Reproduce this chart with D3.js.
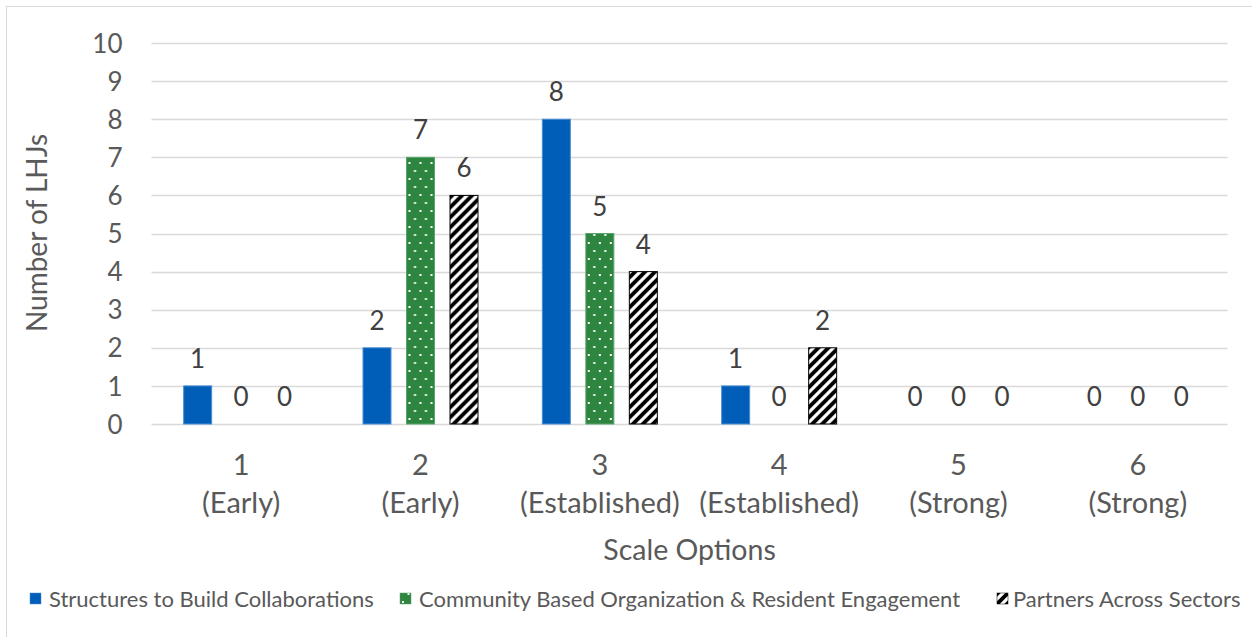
<!DOCTYPE html>
<html><head><meta charset="utf-8">
<script src="https://cdn.jsdelivr.net/npm/d3@7/dist/d3.min.js"></script>
<style>html,body{margin:0;padding:0;background:#fff;} svg{display:block;}</style>
</head><body>
<svg id="chart" width="1252" height="637"></svg>
<script>
const categories = ["1|(Early)", "2|(Early)", "3|(Established)", "4|(Established)", "5|(Strong)", "6|(Strong)"];
const seriesNames = ["Structures to Build Collaborations", "Community Based Organization & Resident Engagement", "Partners Across Sectors"];
const structures = [1, 2, 8, 1, 0, 0];
const community = [0, 7, 5, 0, 0, 0];
const partners = [0, 6, 4, 2, 0, 0];
const yTicks = [0,1,2,3,4,5,6,7,8,9,10];
const xTitle = "Scale Options";
const yTitle = "Number of LHJs";

const seriesValues = [structures, community, partners];
const fills = ["#005EB8", "url(#dots)", "url(#hatch)"];
const strokes = ["#4a8fd4", "#5aa56a", "#000"];

const svg = d3.select("#chart");
const font = "Lato, 'Open Sans', sans-serif";

// patterns
const defs = svg.append("defs");
const pd = defs.append("pattern").attr("id","dots").attr("patternUnits","userSpaceOnUse")
  .attr("width",11).attr("height",16);
pd.append("rect").attr("width",11).attr("height",16).attr("fill","#2E8540");
pd.append("rect").attr("x",2).attr("y",2).attr("width",2).attr("height",2).attr("fill","#fff");
pd.append("rect").attr("x",7.5).attr("y",10).attr("width",2).attr("height",2).attr("fill","#fff");
const ph = defs.append("pattern").attr("id","hatch").attr("patternUnits","userSpaceOnUse")
  .attr("width",10).attr("height",10);
ph.append("rect").attr("width",10).attr("height",10).attr("fill","#000");
ph.append("path").attr("d","M0,10 L10,0 M-3,3 L3,-3 M7,13 L13,7").attr("stroke","#fff").attr("stroke-width",3.2);

// outer border
svg.append("rect").attr("x",6.5).attr("y",6.5).attr("width",1260).attr("height",640)
  .attr("fill","none").attr("stroke","#d9d9d9").attr("stroke-width",1);

const pLeft = 151.5, pRight = 1227.5, pTop = 43, pBottom = 424;
const x0 = d3.scaleBand().domain(categories).range([pLeft, pRight]).paddingInner(0).paddingOuter(0);
const groupW = 116;
const x1 = d3.scaleBand().domain(d3.range(seriesNames.length)).range([0, groupW]).paddingInner(1/3).paddingOuter(0);
const y = d3.scaleLinear().domain([0, 10]).range([pBottom, pTop]);

// gridlines
svg.append("g").selectAll("line").data(yTicks).join("line")
  .attr("x1", pLeft).attr("x2", pRight)
  .attr("y1", d => Math.round(y(d)) + 0.5).attr("y2", d => Math.round(y(d)) + 0.5)
  .attr("stroke", "#d9d9d9").attr("stroke-width", 1.3);

// y axis labels
const yAxis = d3.axisLeft(y).tickValues(yTicks).tickSize(0).tickPadding(0);
const gy = svg.append("g").attr("transform", `translate(${pLeft - 29},0)`).call(yAxis);
gy.select(".domain").remove();
gy.selectAll("text").attr("font-family", font).attr("font-size", 26).attr("fill", "#595959").attr("dy","0.35em");

// bars
const groups = svg.append("g").selectAll("g").data(categories).join("g")
  .attr("transform", d => `translate(${x0(d) + (x0.bandwidth() - groupW)/2},0)`);
groups.each(function(cat, ci) {
  const g = d3.select(this);
  seriesValues.forEach((vals, si) => {
    const v = vals[ci];
    if (v > 0) {
      g.append("rect").attr("x", x1(si) + 0.5).attr("width", x1.bandwidth() - 1)
        .attr("y", y(v)).attr("height", y(0) - y(v))
        .attr("fill", fills[si]).attr("stroke", strokes[si]).attr("stroke-width", 1);
    }
    g.append("text").attr("x", x1(si) + x1.bandwidth()/2).attr("y", y(v) - 18)
      .attr("text-anchor","middle").attr("font-family", font).attr("font-size", 26)
      .attr("fill","#404040").text(v);
  });
});

// x axis labels
const xAxis = d3.axisBottom(x0).tickSize(0).tickFormat("");
const gx = svg.append("g").attr("transform", `translate(0,${pBottom})`).call(xAxis);
gx.select(".domain").remove();
gx.selectAll(".tick").each(function(d) {
  const parts = d.split("|");
  const t = d3.select(this).append("text").attr("text-anchor","middle")
    .attr("font-family", font).attr("font-size", 29).attr("fill","#595959");
  t.append("tspan").attr("x",0).attr("y",51).text(parts[0]);
  t.append("tspan").attr("x",0).attr("y",89).text(parts[1]);
});

// axis titles
svg.append("text").attr("x", (pLeft+pRight)/2).attr("y", 560).attr("text-anchor","middle")
  .attr("font-family", font).attr("font-size", 28.5).attr("fill","#595959").text(xTitle);
svg.append("text").attr("transform","translate(47,233) rotate(-90)").attr("text-anchor","middle")
  .attr("font-family", font).attr("font-size", 28).attr("fill","#595959").text(yTitle);

// legend
const legendX = [30, 400, 997];
const lg = svg.append("g").selectAll("g").data(seriesNames).join("g")
  .attr("transform", (d,i) => `translate(${legendX[i]},599)`);
lg.append("rect").attr("x",0).attr("y",-6).attr("width",11).attr("height",11)
  .attr("fill",(d,i)=>fills[i]).attr("stroke",(d,i)=>strokes[i]).attr("stroke-width",0.5);
lg.append("text").attr("x",(d,i)=> i===2 ? 16 : 19).attr("y",0).attr("dy","0.35em")
  .attr("font-family", font).attr("font-size", 22).attr("fill","#595959").text(d=>d);
</script>
</body></html>
